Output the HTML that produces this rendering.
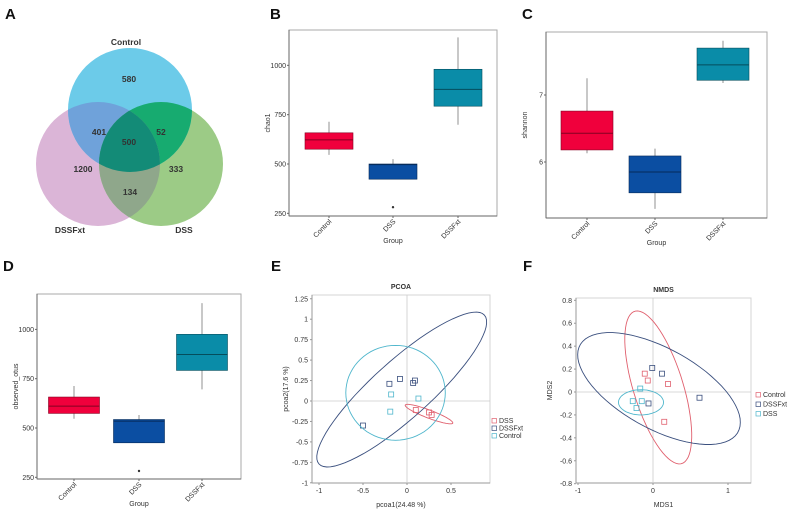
<!DOCTYPE html>
<html><head><meta charset="utf-8"><style>
html,body{margin:0;padding:0;background:#fff;}
svg{display:block;font-family:"Liberation Sans",sans-serif;}
</style></head><body>
<svg id="fig" width="789" height="514" viewBox="0 0 789 514">
<defs>
<clipPath id="cpC"><circle cx="130" cy="110" r="62"/></clipPath>
<clipPath id="cpF"><circle cx="98" cy="164" r="62"/></clipPath>
<clipPath id="cpD"><circle cx="161" cy="164" r="62"/></clipPath>
</defs>
<g font-weight="bold" font-size="15" fill="#111">
<text x="5" y="19">A</text>
<text x="270" y="19">B</text>
<text x="522" y="19">C</text>
<text x="3" y="271">D</text>
<text x="271" y="271">E</text>
<text x="523" y="271">F</text>
</g>
<g id="venn">
<circle cx="98" cy="164" r="62" fill="#dbb5d7"/>
<circle cx="161" cy="164" r="62" fill="#9ccb86"/>
<circle cx="130" cy="110" r="62" fill="#6ccbe9"/>
<g clip-path="url(#cpC)"><circle cx="98" cy="164" r="62" fill="#6fa2da"/><circle cx="161" cy="164" r="62" fill="#17ab70"/></g>
<g clip-path="url(#cpF)"><circle cx="161" cy="164" r="62" fill="#8fa78b"/></g>
<g clip-path="url(#cpC)"><g clip-path="url(#cpF)"><circle cx="161" cy="164" r="62" fill="#138b77"/></g></g>
<g font-size="8.5" fill="#333" text-anchor="middle" font-weight="bold">
<text x="126" y="45">Control</text>
<text x="70" y="233">DSSFxt</text>
<text x="184" y="233">DSS</text>
<text x="129" y="82">580</text>
<text x="99" y="135">401</text>
<text x="129" y="145">500</text>
<text x="161" y="135">52</text>
<text x="83" y="172">1200</text>
<text x="176" y="172">333</text>
<text x="130" y="195">134</text>
</g>
</g>
</svg>
<script>
const groups = ["Control","DSS","DSSFxt"];
const boxColors = ["#f0003c","#0b4ea2","#0a8ca8"];
const chaoMin = [546,423,699];
const chaoQ1 = [575,423,793];
const chaoMed = [622,497,878];
const chaoQ3 = [658,500,980];
const chaoMax = [714,525,1142];
const chaoOut = [null,281,null];
const chaoTicks = [250,500,750,1000];
const shanMin = [6.13,5.30,7.18];
const shanQ1 = [6.18,5.54,7.22];
const shanMed = [6.43,5.85,7.45];
const shanQ3 = [6.76,6.09,7.70];
const shanMax = [7.25,6.20,7.81];
const shanOut = [null,null,null];
const shanTicks = [6,7];
const otuMin = [547,425,696];
const otuQ1 = [574,425,792];
const otuMed = [611,535,873];
const otuQ3 = [657,543,975];
const otuMax = [713,566,1133];
const otuOut = [null,282,null];
const otuTicks = [250,500,750,1000];
const pcoaSeries = ["DSS","DSSFxt","Control"];
const pcoaColors = ["#e0606e","#3a4f7e","#4fb6cc"];
const pcoaX = [[0.10,0.25,0.28],[-0.20,-0.08,0.09,0.07,-0.50],[-0.18,0.13,-0.19]];
const pcoaY = [[-0.11,-0.14,-0.17],[0.21,0.27,0.25,0.22,-0.30],[0.08,0.03,-0.13]];
const pcoaEllCenter = [[0.25,-0.16],[-0.06,0.14],[-0.13,0.10]];
const pcoaEllU = [[0.27,-0.11],[0.94,0.91],[0.565,0]];
const pcoaEllV = [[-0.016,-0.046],[0.22,-0.26],[0,0.58]];
const pcoaXTicks = [-1,-0.5,0,0.5];
const pcoaYTicks = [-1,-0.75,-0.5,-0.25,0,0.25,0.5,0.75,1,1.25];
const nmdsSeries = ["Control","DSSFxt","DSS"];
const nmdsColors = ["#e0606e","#3a4f7e","#4fb6cc"];
const nmdsX = [[-0.11,-0.07,0.20,0.15],[-0.01,0.12,0.62,-0.06],[-0.17,-0.27,-0.15,-0.22]];
const nmdsY = [[0.16,0.10,0.07,-0.26],[0.21,0.16,-0.05,-0.10],[0.03,-0.08,-0.08,-0.14]];
const nmdsEllCenter = [[0.07,0.04],[0.08,0.03],[-0.16,-0.09]];
const nmdsEllU = [[0.33,-0.66],[1.08,-0.33],[0.30,0]];
const nmdsEllV = [[0.30,0.10],[0.10,0.36],[0,0.11]];
const nmdsXTicks = [-1,0,1];
const nmdsYTicks = [-0.8,-0.6,-0.4,-0.2,0,0.2,0.4,0.6,0.8];

const NS="http://www.w3.org/2000/svg";
const svg=document.getElementById('fig');
function mk(tag,attrs,parent){const e=document.createElementNS(NS,tag);for(const k in attrs)e.setAttribute(k,attrs[k]);(parent||svg).appendChild(e);return e;}
function darker(c){const n=parseInt(c.slice(1),16);const r=(n>>16)*0.55|0,g=((n>>8)&255)*0.55|0,b=(n&255)*0.55|0;return `rgb(${r},${g},${b})`;}

function boxPanel(name,fr,cats,bw,y0v,y0p,ppu,ticks,mn,q1,md,q3,mx,out,ytitle){
  const g=mk('g',{});
  
  
  const ys=v=>y0p-(v-y0v)*ppu;
  const fr1=mk('rect',{x:fr[0],y:fr[1],width:fr[2]-fr[0],height:fr[3]-fr[1],fill:'none',stroke:'#aaa','stroke-width':1},g);
  
  
  mk('line',{x1:fr[0],y1:fr[1],x2:fr[0],y2:fr[3],stroke:'#666'},g);
  mk('line',{x1:fr[0],y1:fr[3],x2:fr[2],y2:fr[3],stroke:'#666'},g);
  ticks.forEach(t=>{
    const y=ys(t);
    mk('line',{x1:fr[0]-2,y1:y,x2:fr[0],y2:y,stroke:'#666'},g);
    const tx=mk('text',{x:fr[0]-3,y:y+2.5,'font-size':7,'text-anchor':'end',fill:'#333'},g);
    tx.textContent=t;
    
    
  });
  groups.forEach((gr,i)=>{
    const cx=cats[i];
    const bg=mk('g',{},g);
    
    
    mk('line',{x1:cx,y1:ys(mx[i]),x2:cx,y2:ys(mn[i]),stroke:'#777','stroke-width':0.8},bg);
    mk('rect',{x:cx-bw/2,y:ys(q3[i]),width:bw,height:Math.max(1,ys(q1[i])-ys(q3[i])),fill:boxColors[i],stroke:darker(boxColors[i]),'stroke-width':0.6},bg);
    mk('line',{x1:cx-bw/2,y1:ys(md[i]),x2:cx+bw/2,y2:ys(md[i]),stroke:darker(boxColors[i]),'stroke-width':1},bg);
    if(out[i]!=null){mk('circle',{cx:cx,cy:ys(out[i]),r:1.2,fill:'#333'},bg);}
    mk('line',{x1:cx,y1:fr[3],x2:cx,y2:fr[3]+2,stroke:'#666'},g);
    const tl=mk('text',{x:cx+3,y:fr[3]+6,'font-size':7,'text-anchor':'end',fill:'#333',transform:`rotate(-45 ${cx+3} ${fr[3]+6})`},g);
    tl.textContent=gr;
    
    
  });
  const xt=mk('text',{x:(fr[0]+fr[2])/2,y:fr[3]+27,'font-size':7,'text-anchor':'middle',fill:'#333'},g);
  xt.textContent='Group';
  
  
  const yx=fr[0]-19, yy=(fr[1]+fr[3])/2;
  const yt=mk('text',{x:yx,y:yy,'font-size':7,'text-anchor':'middle',fill:'#333',transform:`rotate(-90 ${yx} ${yy})`},g);
  yt.textContent=ytitle;
  
  
}
boxPanel('chao1-boxplot',[289,30,497,216],[329,393,458],48,500,164,49.33/250,chaoTicks,chaoMin,chaoQ1,chaoMed,chaoQ3,chaoMax,chaoOut,'chao1');
boxPanel('shannon-boxplot',[546,32,767,218],[587,655,723],52,6,162,67,shanTicks,shanMin,shanQ1,shanMed,shanQ3,shanMax,shanOut,'shannon');
boxPanel('observed-otus-boxplot',[37,294,241,479],[74,139,202],51,500,428,49.3/250,otuTicks,otuMin,otuQ1,otuMed,otuQ3,otuMax,otuOut,'observed_otus');

function scatterPanel(name,fr,x0,xppu,y0,yppu,xt,yt,series,colors,X,Y,EC,EU,EV,title,xlab,ylab,legX,legY,legDy){
  const g=mk('g',{});
  
  
  const xs=v=>x0+v*xppu, ys=v=>y0-v*yppu;
  mk('rect',{x:fr[0],y:fr[1],width:fr[2]-fr[0],height:fr[3]-fr[1],fill:'none',stroke:'#d4d4d4'},g);
  mk('line',{x1:fr[0],y1:fr[1],x2:fr[0],y2:fr[3],stroke:'#999'},g);
  mk('line',{x1:fr[0],y1:fr[3],x2:fr[2],y2:fr[3],stroke:'#999'},g);
  mk('line',{x1:xs(0),y1:fr[1],x2:xs(0),y2:fr[3],stroke:'#ccc','stroke-width':0.8},g);
  mk('line',{x1:fr[0],y1:ys(0),x2:fr[2],y2:ys(0),stroke:'#ccc','stroke-width':0.8},g);
  xt.forEach(t=>{
    mk('line',{x1:xs(t),y1:fr[3],x2:xs(t),y2:fr[3]+2,stroke:'#999'},g);
    const e=mk('text',{x:xs(t),y:fr[3]+10,'font-size':7,'text-anchor':'middle',fill:'#333'},g);
    e.textContent=t;
    
    
  });
  yt.forEach(t=>{
    mk('line',{x1:fr[0]-2,y1:ys(t),x2:fr[0],y2:ys(t),stroke:'#999'},g);
    const e=mk('text',{x:fr[0]-4,y:ys(t)+2.5,'font-size':7,'text-anchor':'end',fill:'#333'},g);
    e.textContent=t;
    
    
  });
  series.forEach((s,i)=>{
    let d='';
    for(let k=0;k<=72;k++){const a=k/72*2*Math.PI;const px=xs(EC[i][0]+Math.cos(a)*EU[i][0]+Math.sin(a)*EV[i][0]);const py=ys(EC[i][1]+Math.cos(a)*EU[i][1]+Math.sin(a)*EV[i][1]);d+=(k?'L':'M')+px.toFixed(1)+' '+py.toFixed(1);}
    const el=mk('path',{d:d+'Z',fill:'none',stroke:colors[i],'stroke-width':0.9},g);
    
    
    X[i].forEach((xv,j)=>{
      const p=mk('rect',{x:xs(xv)-2.5,y:ys(Y[i][j])-2.5,width:5,height:5,fill:'none',stroke:colors[i],'stroke-width':0.8},g);
      
      
    });
    mk('rect',{x:legX,y:legY+i*legDy-4.5,width:4.5,height:4.5,fill:'none',stroke:colors[i],'stroke-width':0.7},g);
    const lt=mk('text',{x:legX+7,y:legY+i*legDy,'font-size':7,fill:'#333'},g);
    lt.textContent=s;
    
    
  });
  const tt=mk('text',{x:(fr[0]+fr[2])/2,y:fr[1]-6,'font-size':7,'text-anchor':'middle',fill:'#333','font-weight':'bold'},g);
  tt.textContent=title;
  
  
  const xl=mk('text',{x:(fr[0]+fr[2])/2,y:fr[3]+24,'font-size':7,'text-anchor':'middle',fill:'#333'},g);
  xl.textContent=xlab;
  
  
  const lx=fr[0]-24, ly=(fr[1]+fr[3])/2;
  const yl=mk('text',{x:lx,y:ly,'font-size':7,'text-anchor':'middle',fill:'#333',transform:`rotate(-90 ${lx} ${ly})`},g);
  yl.textContent=ylab;
  
  
}
scatterPanel('pcoa-plot',[312,295,490,483],407,88,401,81.8,pcoaXTicks,pcoaYTicks,pcoaSeries,pcoaColors,pcoaX,pcoaY,pcoaEllCenter,pcoaEllU,pcoaEllV,'PCOA','pcoa1(24.48 %)','pcoa2(17.6 %)',492,423,7.5);
scatterPanel('nmds-plot',[576,298,751,483],653,75,392,114.6,nmdsXTicks,nmdsYTicks,nmdsSeries,nmdsColors,nmdsX,nmdsY,nmdsEllCenter,nmdsEllU,nmdsEllV,'NMDS','MDS1','MDS2',756,397,9.5);
</script>
</body></html>
